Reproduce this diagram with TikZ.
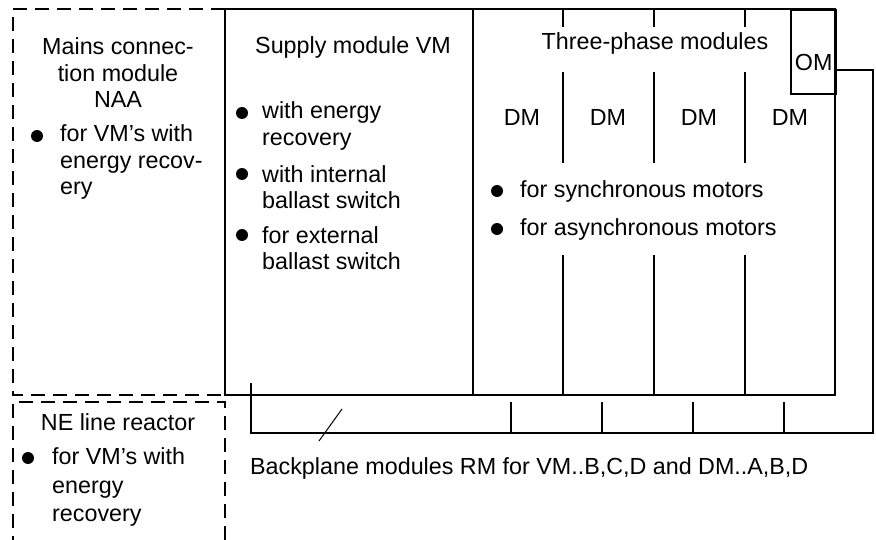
\documentclass[tikz,border=0pt]{standalone}
\usepackage{fontspec}
\setmainfont{Liberation Sans}

\begin{document}
\begin{tikzpicture}[x=1pt,y=-1pt,
    frame/.style={line width=2.4pt},
    dashframe/.style={line width=2.4pt,dash pattern=on 14pt off 8pt},
    txt/.style={inner sep=0pt,font=\fontsize{23.3}{26.5}\selectfont},
    item/.style={txt,anchor=west,align=left}]
    \useasboundingbox (0,0) rectangle (876,540);
    % dashed boxes on the left
    \draw[dashframe] (225,9) -- (13,9) -- (13,395) -- (225,395);
    \draw[dashframe] (225,540) -- (225,402) -- (13,402) -- (13,540);
    % main frame
    \draw[frame] (225,9) rectangle (835,395);
    \draw[frame] (473,9) -- (473,395);
    \foreach \x in {563,654,745}{
      \draw[frame] (\x,9) -- (\x,27);
      \draw[frame] (\x,72) -- (\x,163);
      \draw[frame] (\x,255) -- (\x,395);
    }
    \node[frame,draw,anchor=north west,minimum width=45,minimum height=84] (om) at (790,9) {};
    \node[txt] (omtext) at (om.center |- 0,62) {OM};
    % backplane
    \coordinate (omport) at (835,70);
    \draw[frame] (251,383) -- (251,433) -- (873,433) -- (873,70) -- (omport);
    \foreach \x in {511,602,693,784}{
      \draw[frame] (\x,402) -- (\x,433);
    }
    % mains connection module
    \node[txt,align=center] (naa) at (118,73) {Mains connec-\\tion module\\NAA};
    \fill (37,136) circle (6pt);
    \node[item] (naaitem) at (60,162) {for VM’s with\\energy recov-\\ery};
    % supply module
    \node[txt] (vm) at (353,47) {Supply module VM};
    \foreach \y/\t in {126/{with energy\\recovery},187/{with internal\\ballast switch},248/{for external\\ballast switch}}{
      \fill (242,\y-13) circle (6pt);
      \node[item] at (262,\y) {\t};
    }
    % three-phase modules
    \node[txt] (dmtitle) at (655,43) {Three-phase modules};
    \foreach \x [count=\i] in {522,608,699,790}{
      \node[txt] (dm\i) at (\x,117) {DM};
    }
    \foreach \y/\t in {191/{for synchronous motors},229/{for asynchronous motors}}{
      \fill (497,\y) circle (6pt);
      \node[item] at (520,\y) {\t};
    }
    % line reactor
    \node[txt] (ne) at (118,422) {NE line reactor};
    \fill (28,458) circle (6pt);
    \node[item,font=\fontsize{23.3}{28.5}\selectfont] (neitem) at (52,487) {for VM’s with\\energy\\recovery};
    % backplane label
    \node[txt,anchor=west] (rm) at (250,468) {Backplane modules RM for VM..B,C,D and DM..A,B,D};
    \coordinate (rmtip) at (342,409);
    \draw[line width=1pt] (rmtip) -- ++(-23,32);
\end{tikzpicture}
\end{document}
